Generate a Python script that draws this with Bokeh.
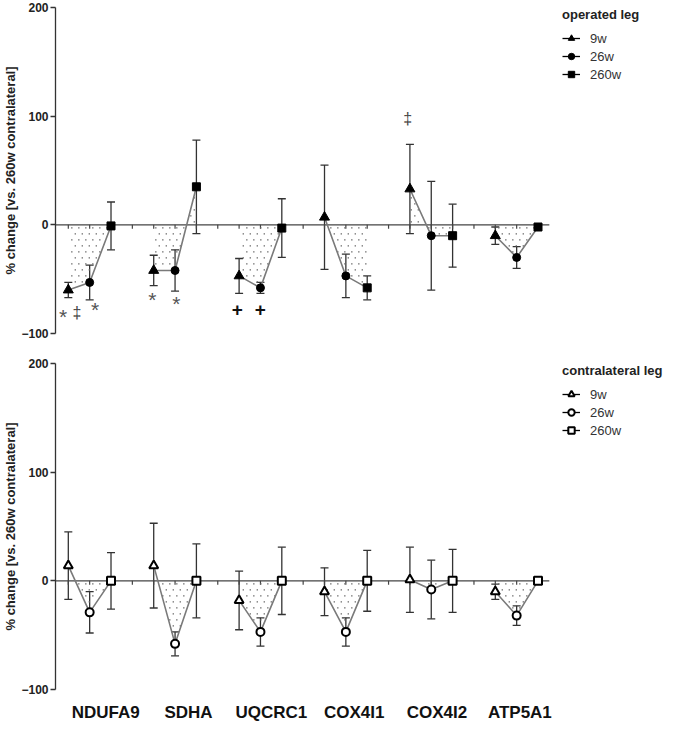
import numpy as np
from bokeh.plotting import figure
from bokeh.models import (Range1d, FixedTicker, Whisker, TeeHead, ColumnDataSource,
                          Legend, LegendItem, LinearAxis)
from bokeh.layouts import column
from bokeh.embed import file_html
from bokeh.resources import INLINE
from bokeh.core.properties import value

# ---------------- data ----------------
genes = ["NDUFA9", "SDHA", "UQCRC1", "COX4I1", "COX4I2", "ATP5A1"]
timepoints = ["9w", "26w", "260w"]

# operated leg (% change vs. 260w contralateral), mean and error
op_9w = [-60, -42, -47, 7, 33, -10]
op_9w_err = [7, 14, 16, 48, 41, 8]
op_26w = [-53, -42, -58, -47, -10, -30]
op_26w_err = [16, 19, 5, 20, 50, 10]
op_260w = [-1, 35, -3, -58, -10, -2]
op_260w_err = [22, 43, 27, 11, 29, 1]

# contralateral leg
con_9w = [14, 14, -18, -10, 1, -10]
con_9w_err = [31, 39, 27, 22, 30, 7]
con_26w = [-29, -58, -47, -47, -8, -32]
con_26w_err = [19, 11, 13, 13, 27, 9]
con_260w = [0, 0, 0, 0, 0, 0]
con_260w_err = [26, 34, 31, 28, 29, 1]

# significance marks on operated leg: gene index, position within group, y value, symbol
sig_gene = [0, 0, 0, 1, 1, 2, 2, 4]
sig_offset = [-0.25, 0.4, 1.25, -0.07, 1.06, -0.08, 0.99, -0.1]
sig_y = [-82, -81, -75, -66, -70, -78, -78, 98]
sig_text = ["*", "\u2021", "*", "*", "*", "+", "+", "\u2021"]

FONT = "Liberation Sans"
GROUP_STEP = 4
PX_PER_UNIT = 21.35
FRAME_W, FRAME_H = 614, 326
X0 = -0.6
X1 = X0 + FRAME_W / PX_PER_UNIT
AXIS_END = 22.53
LEG_PAD = 5
LEG_H = 2 * LEG_PAD + 15 + 8 + 3 * 16 + 2 * 2

# stipple spacing (screen px converted to data units)
DOT_DX = 7.0 / PX_PER_UNIT
DOT_DY = 6.0 / (FRAME_H / 300.0)

sym_style = {
    "*": dict(size="21px", color="#555555", style="normal", dy=3),
    "\u2021": dict(size="16px", color="#444444", style="normal", dy=0),
    "+": dict(size="19px", color="#111111", style="bold", dy=0),
}


def positions(t):
    return [g * GROUP_STEP + t for g in range(len(genes))]


def stipple(gx, gy):
    """Staggered dot grid filling the region between the connecting line and zero."""
    dx_out, dy_out = [], []
    lo, hi = min(0, min(gy)), max(0, max(gy))
    for r in range(int(np.floor(lo / DOT_DY)) - 1, int(np.ceil(hi / DOT_DY)) + 1):
        yv = (r + 0.5) * DOT_DY
        off = (r % 2) * DOT_DX / 2
        k0 = int(np.floor((gx[0] - off) / DOT_DX))
        k1 = int(np.ceil((gx[-1] - off) / DOT_DX))
        xg = np.arange(k0, k1 + 1) * DOT_DX + off
        xg = xg[(xg > gx[0] + 0.05) & (xg < gx[-1] - 0.05)]
        lv = np.interp(xg, gx, gy)
        m = ((yv > 0) & (lv - yv > 1.5)) | ((yv < 0) & (yv - lv > 1.5))
        dx_out.extend(xg[m].tolist())
        dy_out.extend([yv] * int(m.sum()))
    return dx_out, dy_out


def make_panel(series, errs, filled, title, top_border, bottom_border, show_labels, sig=False):
    p = figure(frame_width=FRAME_W, frame_height=FRAME_H,
               x_range=Range1d(X0, X1), y_range=Range1d(-100, 200),
               output_backend="svg", toolbar_location=None,
               min_border_left=50, min_border_right=0,
               min_border_top=top_border, min_border_bottom=bottom_border)
    p.outline_line_color = None
    p.grid.visible = False
    p.background_fill_color = "white"

    # y axis
    ya = p.yaxis[0]
    ya.ticker = FixedTicker(ticks=[-100, 0, 100, 200])
    ya.major_tick_out = 5
    ya.major_tick_in = 0
    ya.minor_tick_line_color = None
    ya.axis_line_color = "#333333"
    ya.axis_line_width = 1.3
    ya.major_tick_line_color = "#333333"
    ya.major_tick_line_width = 1.3
    ya.major_label_text_font = FONT
    ya.major_label_text_font_style = "bold"
    ya.major_label_text_font_size = "12px"
    ya.major_label_text_color = "#222222"
    ya.major_label_standoff = 2
    ya.axis_label = "% change [vs. 260w contralateral]"
    ya.axis_label_text_font = FONT
    ya.axis_label_text_font_style = "bold"
    ya.axis_label_text_font_size = "13px"
    ya.axis_label_text_color = "#222222"
    ya.axis_label_standoff = 0

    p.xaxis.visible = False

    # zero line with small ticks at every position
    p.line(x=[X0, AXIS_END], y=[0, 0], line_color="#444444", line_width=1.3)
    all_pos = list(range(0, GROUP_STEP * (len(genes) - 1) + 3))
    p.segment(x0=all_pos, y0=[0] * len(all_pos), x1=all_pos, y1=[-3.5] * len(all_pos),
              line_color="#444444", line_width=1.2)

    xs = [positions(t) for t in range(3)]

    # stippled area and connecting gray line per gene
    sdx, sdy = [], []
    for g in range(len(genes)):
        gx = [xs[t][g] for t in range(3)]
        gy = [series[t][g] for t in range(3)]
        a, b = stipple(gx, gy)
        sdx += a
        sdy += b
    p.scatter(x=sdx, y=sdy, marker="square", size=1.4, fill_color="#6a6a6a",
              line_color=None)
    for g in range(len(genes)):
        gx = [xs[t][g] for t in range(3)]
        gy = [series[t][g] for t in range(3)]
        p.line(x=gx, y=gy, line_color="#7a7a7a", line_width=1.6)

    # error bars
    for t in range(3):
        up = [v + e for v, e in zip(series[t], errs[t])]
        lo = [v - e for v, e in zip(series[t], errs[t])]
        src = ColumnDataSource(dict(x=xs[t], upper=up, lower=lo))
        w = Whisker(source=src, base="x", upper="upper", lower="lower",
                    line_color="#333333", line_width=1.3,
                    upper_head=TeeHead(size=8, line_color="#333333", line_width=1.3),
                    lower_head=TeeHead(size=8, line_color="#333333", line_width=1.3),
                    level="underlay")
        p.add_layout(w)

    markers = ["triangle", "circle", "square"]
    if filled:
        sizes = [10, 8, 8]
        fill, lw = "black", 1.0
    else:
        sizes = [9, 8, 8]
        fill, lw = "white", 2.0
    items = []
    for t in range(3):
        sr = p.scatter(x=xs[t], y=series[t], marker=markers[t], size=sizes[t],
                       fill_color=fill, line_color="black", line_width=lw)
        # legend-only line (hidden on the plot)
        lr = p.line(x=xs[t], y=series[t], line_color="black", line_width=1.3, visible=False)
        items.append(LegendItem(label=timepoints[t], renderers=[lr, sr]))

    leg = Legend(items=items, title=title,
                 location=(512 - LEG_PAD, FRAME_H + 3.5 + LEG_PAD - 6 + 7.5 - LEG_H),
                 border_line_color=None, background_fill_alpha=0,
                 inactive_fill_alpha=0,
                 margin=0, padding=LEG_PAD, spacing=2,
                 glyph_width=18, glyph_height=16, label_height=16,
                 label_standoff=10, title_standoff=8,
                 label_text_font=FONT, label_text_font_size="13px",
                 label_text_color="#333333",
                 title_text_font=FONT, title_text_font_size="13px",
                 title_text_font_style="bold", title_text_color="#222222")
    p.add_layout(leg)

    if sig:
        sx = [sig_gene[i] * GROUP_STEP + sig_offset[i] for i in range(len(sig_text))]
        src = ColumnDataSource(dict(
            x=sx,
            y=list(sig_y),
            text=sig_text,
            size=[sym_style[s]["size"] for s in sig_text],
            color=[sym_style[s]["color"] for s in sig_text],
            style=[sym_style[s]["style"] for s in sig_text],
            dy=[sym_style[s]["dy"] for s in sig_text],
        ))
        p.text(x="x", y="y", text="text", source=src, text_font=value(FONT),
               text_font_size="size", text_color="color", text_font_style="style",
               y_offset="dy", text_align="center", text_baseline="middle")

    if show_labels:
        # label axis: gene labels placed slightly right of each group's middle
        lab_shift, lab_step = 1.75, 3.88
        p.extra_x_ranges = {"lab": Range1d((X0 - lab_shift) / lab_step,
                                           (X1 - lab_shift) / lab_step)}
        la = LinearAxis(x_range_name="lab",
                        ticker=FixedTicker(ticks=list(range(len(genes)))),
                        major_label_overrides={i: g for i, g in enumerate(genes)})
        la.axis_line_color = None
        la.major_tick_line_color = None
        la.minor_tick_line_color = None
        la.major_tick_out = 0
        la.major_label_standoff = 13
        la.major_label_text_font = FONT
        la.major_label_text_font_style = "bold"
        la.major_label_text_font_size = "17px"
        la.major_label_text_color = "#111111"
        p.add_layout(la, "below")
    return p


top = make_panel([op_9w, op_26w, op_260w], [op_9w_err, op_26w_err, op_260w_err],
                 True, "operated leg", 7, 20, False, sig=True)
bottom = make_panel([con_9w, con_26w, con_260w], [con_9w_err, con_26w_err, con_260w_err],
                    False, "contralateral leg", 10, 0, True)

layout = column(top, bottom, spacing=0)
open("out.html", "w").write(file_html(layout, INLINE))
